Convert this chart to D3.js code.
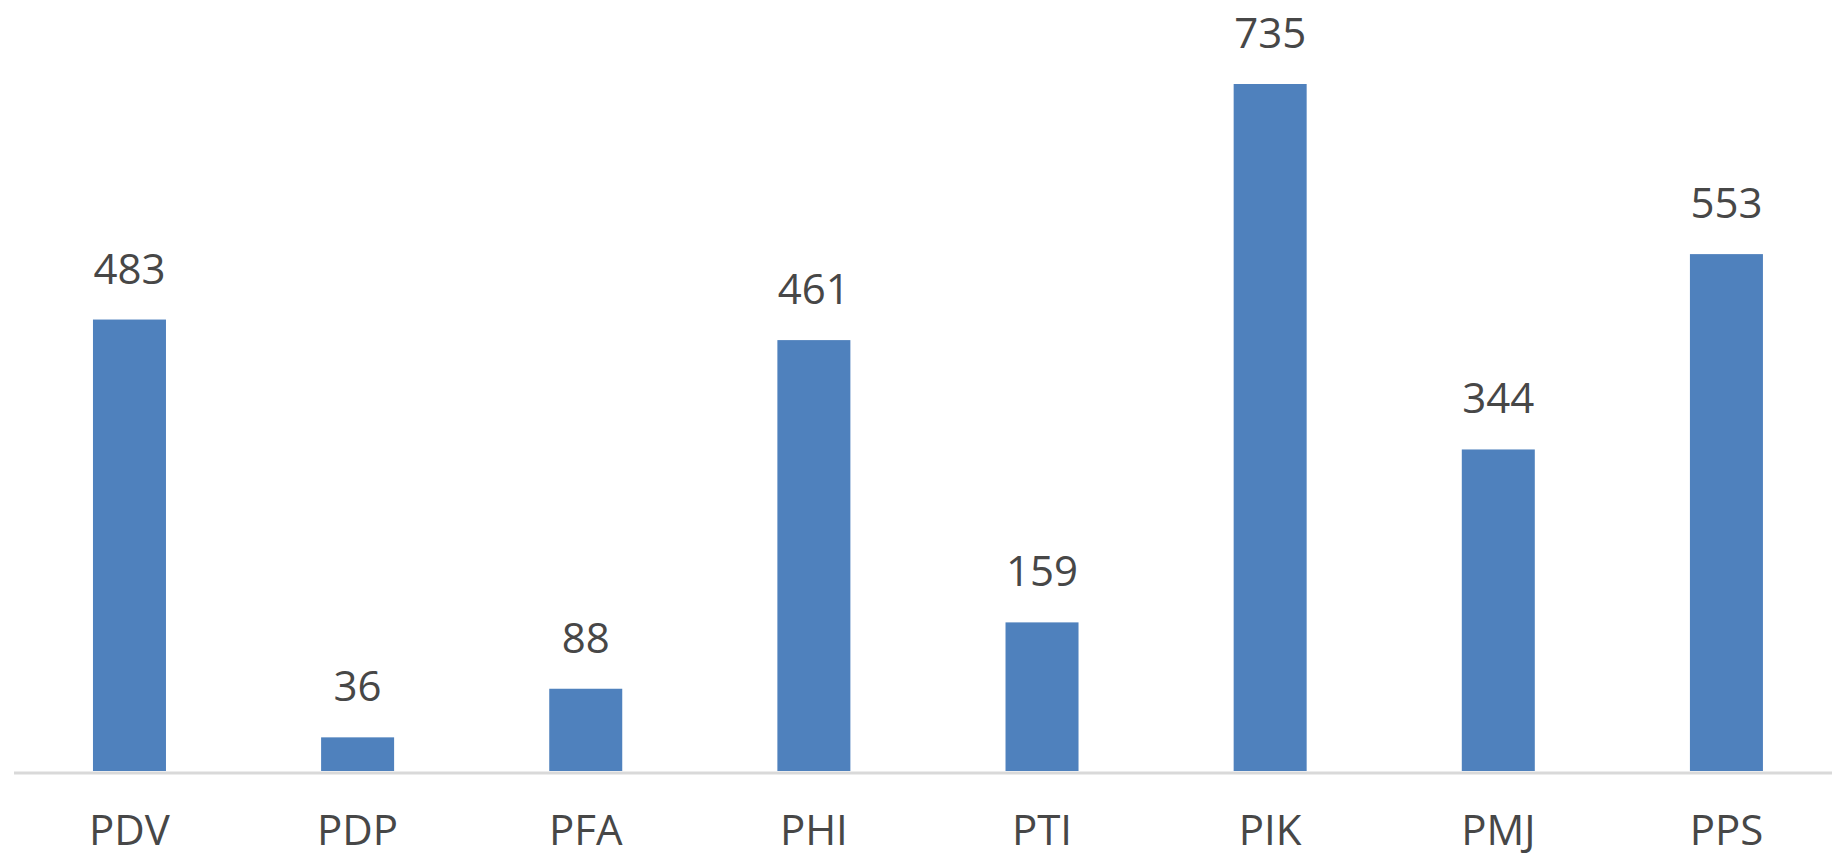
<!DOCTYPE html>
<html>
<head>
<meta charset="utf-8">
<script src="https://cdn.jsdelivr.net/npm/d3@7"></script>
<style>
  body { margin: 0; background: #fff; }
  text { font-family: "Open Sans", "Liberation Sans", sans-serif; }
</style>
</head>
<body>
<svg id="chart"></svg>
<script>
// Data
const categories = ['PDV', 'PDP', 'PFA', 'PHI', 'PTI', 'PIK', 'PMJ', 'PPS'];
const values = [483, 36, 88, 461, 159, 735, 344, 553];

const width = 1832;
const height = 856;
const baseline = 771;

const svg = d3.select('#chart')
  .attr('width', width)
  .attr('height', height);

// Scales
const x = d3.scaleBand()
  .domain(categories)
  .range([15.4, 1840.5])
  .paddingInner(0.68)
  .paddingOuter(0.34);

const y = d3.scaleLinear()
  .domain([0, 735])
  .range([baseline, 84]);

// Bars
svg.selectAll('rect.bar')
  .data(values)
  .enter()
  .append('rect')
  .attr('class', 'bar')
  .attr('x', (d, i) => x(categories[i]))
  .attr('width', x.bandwidth())
  .attr('y', d => y(d))
  .attr('height', d => baseline - y(d))
  .attr('fill', '#4f81bd');

// Axis line (category axis, no ticks)
const xAxis = d3.axisBottom(x).tickSize(0).tickPadding(0).tickFormat('');
const axisG = svg.append('g')
  .attr('transform', 'translate(0,' + (baseline + 2) + ')')
  .call(xAxis);
axisG.select('.domain')
  .attr('d', 'M14,0H' + width)
  .attr('stroke', '#d9d9d9')
  .attr('stroke-width', 3);

// Category labels
svg.selectAll('text.cat')
  .data(categories)
  .enter()
  .append('text')
  .attr('class', 'cat')
  .attr('x', d => x(d) + x.bandwidth() / 2)
  .attr('y', 845)
  .attr('text-anchor', 'middle')
  .attr('font-size', 42)
  .attr('fill', '#474747')
  .text(d => d);

// Value labels
svg.selectAll('text.val')
  .data(values)
  .enter()
  .append('text')
  .attr('class', 'val')
  .attr('x', (d, i) => x(categories[i]) + x.bandwidth() / 2)
  .attr('y', d => y(d) - 36)
  .attr('text-anchor', 'middle')
  .attr('font-size', 42)
  .attr('fill', '#474747')
  .text(d => d);
</script>
</body>
</html>
